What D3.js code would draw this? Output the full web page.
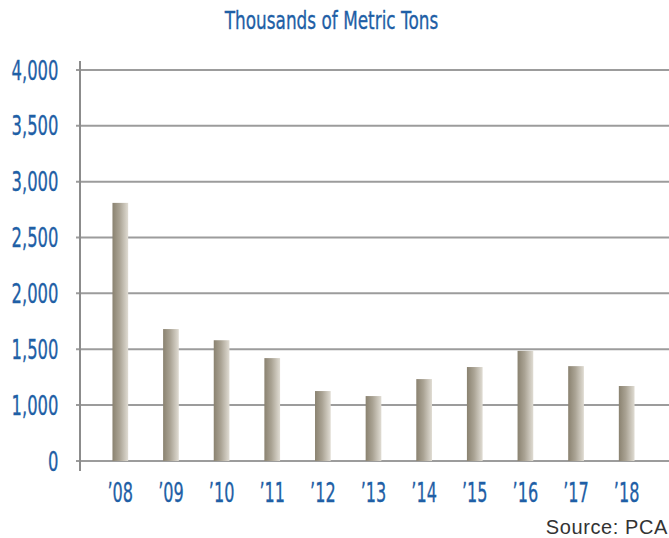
<!DOCTYPE html>
<html>
<head>
<meta charset="utf-8">
<script src="https://cdn.jsdelivr.net/npm/d3@7"></script>
<style>
    body { margin: 0; background: #fff; }
    .lbl { font-family: "DejaVu Sans", sans-serif; fill: #1f5fa6; stroke: #1f5fa6; stroke-width: 0.35px; }
</style>
</head>
<body>
<svg id="chart" width="669" height="538"></svg>
<script>
// data
var years = ["\u201908", "\u201909", "\u201910", "\u201911", "\u201912", "\u201913",
             "\u201914", "\u201915", "\u201916", "\u201917", "\u201918"];
var tons = [2810, 1680, 1580, 1420, 1125, 1080, 1232, 1340, 1485, 1348, 1170];
var tickValues = [0, 1000, 1500, 2000, 2500, 3000, 3500, 4000];

var svg = d3.select("#chart");

// the axis is broken: 0 to 1,000 takes the same room as one 500 step
var y = d3.scaleLinear()
    .domain([0, 1000, 4000])
    .range([461, 405, 70]);

var x = d3.scaleBand()
    .domain(years)
    .range([95, 652])
    .paddingInner(0.69)
    .paddingOuter(0.345);

// gradient for the bars
var grad = svg.append("defs").append("linearGradient")
    .attr("id", "barGrad")
    .attr("x1", "0%").attr("x2", "100%").attr("y1", "0%").attr("y2", "0%");
grad.append("stop").attr("offset", "0%").attr("stop-color", "#8a8270");
grad.append("stop").attr("offset", "45%").attr("stop-color", "#aaa394");
grad.append("stop").attr("offset", "100%").attr("stop-color", "#e0dcd3");

// title (no condensed font here, so squeeze text with scale)
svg.append("g")
    .attr("transform", "translate(331.5,29)")
    .append("text")
    .attr("class", "lbl")
    .attr("transform", "scale(0.69,1)")
    .attr("text-anchor", "middle")
    .style("font-size", "24.5px")
    .text("Thousands of Metric Tons");

// gridlines
svg.append("g").selectAll("line.grid")
    .data(tickValues)
    .enter().append("line")
    .attr("class", "grid")
    .attr("x1", 76)
    .attr("x2", 669)
    .attr("y1", function(d){ return y(d); })
    .attr("y2", function(d){ return y(d); })
    .attr("stroke", "#9c9c9c")
    .attr("stroke-width", 2);

// y axis line
svg.append("line")
    .attr("x1", 80).attr("x2", 80)
    .attr("y1", 61).attr("y2", 471)
    .attr("stroke", "#8c8c8c")
    .attr("stroke-width", 2);

// y tick labels
svg.append("g").selectAll("g")
    .data(tickValues)
    .enter().append("g")
    .attr("transform", function(d){ return "translate(58.5," + y(d) + ")"; })
    .append("text")
    .attr("class", "lbl")
    .attr("transform", "scale(0.62,1)")
    .attr("dy", "0.36em")
    .attr("text-anchor", "end")
    .style("font-size", "26.5px")
    .text(function(d){ return d3.format(",")(d); });

// bars
svg.append("g").selectAll("rect")
    .data(tons)
    .enter().append("rect")
    .attr("x", function(d, i){ return x(years[i]); })
    .attr("width", x.bandwidth())
    .attr("y", function(d){ return y(d); })
    .attr("height", function(d){ return y(0) - y(d); })
    .attr("fill", "url(#barGrad)");

// x labels
svg.append("g").selectAll("g")
    .data(years)
    .enter().append("g")
    .attr("transform", function(d){ return "translate(" + (x(d) + x.bandwidth() / 2) + ",502)"; })
    .append("text")
    .attr("class", "lbl")
    .attr("transform", "scale(0.62,1)")
    .attr("text-anchor", "middle")
    .style("font-size", "26px")
    .text(function(d){ return d; });

// source
svg.append("text")
    .attr("x", 668)
    .attr("y", 534)
    .attr("text-anchor", "end")
    .style("font-family", "'Liberation Sans', Arial, sans-serif")
    .style("font-size", "20px")
    .style("letter-spacing", "0.6px")
    .attr("fill", "#333")
    .text("Source: PCA");
</script>
</body>
</html>
